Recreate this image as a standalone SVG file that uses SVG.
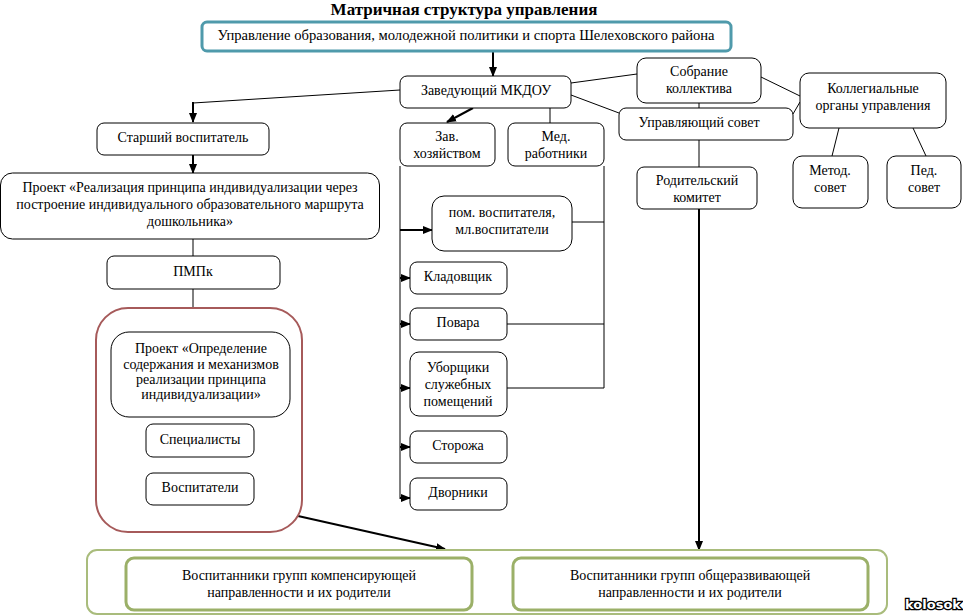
<svg xmlns="http://www.w3.org/2000/svg" width="963" height="616" viewBox="0 0 963 616">
<defs>
<marker id="ah" markerUnits="userSpaceOnUse" markerWidth="10" markerHeight="10" refX="9" refY="5" orient="auto">
<path d="M0,1 L10,5 L0,9 Z" fill="#000"/>
</marker>
<style>
text{font-family:"Liberation Serif","Times New Roman",serif;font-size:14px;fill:#000;text-anchor:middle;dominant-baseline:middle}
.t{font-size:17px;font-weight:bold}
.b{fill:#fff;stroke:#000;stroke-width:1}
.ln{stroke:#000;stroke-width:1;fill:none}
.th{stroke:#000;stroke-width:2;fill:none}
.ar{stroke:#000;stroke-width:2;fill:none;marker-end:url(#ah)}
.g{fill:#fff;stroke:#9bb068;stroke-width:3}
.wm{font-family:"DejaVu Sans",sans-serif;font-size:13px;font-weight:bold;fill:#fff;stroke:#000;stroke-width:2.5;paint-order:stroke}
</style>
</defs>
<rect width="963" height="616" fill="#fff"/>
<text class="t" x="464" y="11">Матричная структура управления</text>

<g id="connectors">
<line class="ar" x1="493" y1="51" x2="493" y2="76"/>
<polyline class="ln" points="400,90 193,103"/>
<line class="ar" x1="193" y1="102" x2="193" y2="122"/>
<line class="ar" x1="193" y1="155" x2="193" y2="173"/>
<line class="ln" x1="193" y1="239" x2="193" y2="256"/>
<line class="ln" x1="193" y1="289" x2="193" y2="308"/>
<line class="ar" x1="298" y1="516" x2="445" y2="549"/>
<line class="ar" x1="473" y1="108" x2="447" y2="122"/>
<line class="ln" x1="550" y1="108" x2="550" y2="123"/>
<line class="ln" x1="571" y1="83" x2="637" y2="74"/>
<line class="ln" x1="571" y1="95" x2="619" y2="113"/>
<line class="ln" x1="761" y1="77" x2="800" y2="96"/>
<line class="ln" x1="793" y1="114" x2="800" y2="102"/>
<line class="ln" x1="699" y1="103" x2="699" y2="108"/>
<line class="ln" x1="699" y1="140" x2="699" y2="167"/>
<line class="ar" x1="699" y1="209" x2="699" y2="550"/>
<line class="ln" x1="839" y1="128" x2="832" y2="156"/>
<line class="ln" x1="913" y1="128" x2="926" y2="156"/>
<line class="ln" x1="400" y1="166" x2="400" y2="499"/>
<line class="ar" x1="400" y1="230" x2="432" y2="230"/>
<line class="ar" x1="400" y1="278" x2="410" y2="278"/>
<line class="ar" x1="400" y1="324" x2="410" y2="324"/>
<line class="ar" x1="400" y1="388" x2="410" y2="388"/>
<line class="ar" x1="400" y1="447" x2="410" y2="447"/>
<line class="ar" x1="400" y1="498" x2="410" y2="498"/>
<line class="ln" x1="604" y1="166" x2="604" y2="388"/>
<line class="ln" x1="572" y1="222" x2="604" y2="222"/>
<line class="ln" x1="507" y1="324" x2="604" y2="324"/>
<line class="ln" x1="507" y1="388" x2="604" y2="388"/>
</g>

<g id="top">
<rect x="202" y="22" width="529" height="29" rx="5" fill="#fff" stroke="#4f9aab" stroke-width="3"/>
<text x="466" y="37" style="font-size:14.6px">Управление образования, молодежной политики и спорта Шелеховского района</text>
</g>
<g id="head">
<rect class="b" x="400" y="76" width="171" height="32" rx="7"/>
<text x="486" y="92">Заведующий МКДОУ</text>
</g>
<g id="senior">
<rect class="b" x="97" y="123" width="172" height="32" rx="7"/>
<text x="183" y="139">Старший воспитатель</text>
</g>
<g id="project1">
<rect class="b" x="0.5" y="173" width="379" height="66" rx="12"/>
<text x="190" y="189">Проект «Реализация принципа индивидуализации через</text>
<text x="190" y="206">построение индивидуального образовательного маршрута</text>
<text x="190" y="223">дошкольника»</text>
</g>
<g id="pmpk">
<rect class="b" x="107" y="256" width="173" height="33" rx="7"/>
<text x="193" y="273">ПМПк</text>
</g>
<g id="team">
<rect x="96" y="308" width="206" height="224" rx="32" fill="#fff" stroke="#a65a5a" stroke-width="2"/>
</g>
<g id="project2">
<rect class="b" x="111" y="332" width="179" height="85" rx="18"/>
<text x="201" y="350">Проект «Определение</text>
<text x="201" y="366">содержания и механизмов</text>
<text x="201" y="381">реализации принципа</text>
<text x="201" y="396">индивидуализации»</text>
</g>
<g id="spec">
<rect class="b" x="146" y="424" width="108" height="33" rx="7"/>
<text x="200" y="441">Специалисты</text>
</g>
<g id="vosp">
<rect class="b" x="146" y="473" width="108" height="32" rx="7"/>
<text x="200" y="489">Воспитатели</text>
</g>
<g id="zavhoz">
<rect class="b" x="400" y="123" width="95" height="43" rx="7"/>
<text x="447" y="138">Зав.</text>
<text x="447" y="155">хозяйством</text>
</g>
<g id="med">
<rect class="b" x="508" y="123" width="96" height="43" rx="7"/>
<text x="556" y="138">Мед.</text>
<text x="556" y="155">работники</text>
</g>
<g id="pom">
<rect class="b" x="432" y="196" width="140" height="55" rx="12"/>
<text x="502" y="214">пом. воспитателя,</text>
<text x="502" y="231">мл.воспитатели</text>
</g>
<g id="klad">
<rect class="b" x="410" y="262" width="97" height="32" rx="7"/>
<text x="458" y="278">Кладовщик</text>
</g>
<g id="povara">
<rect class="b" x="410" y="308" width="97" height="32" rx="7"/>
<text x="458" y="324">Повара</text>
</g>
<g id="uborsh">
<rect class="b" x="410" y="352" width="97" height="64" rx="9"/>
<text x="458" y="369">Уборщики</text>
<text x="458" y="386">служебных</text>
<text x="458" y="403">помещений</text>
</g>
<g id="storozh">
<rect class="b" x="410" y="431" width="97" height="32" rx="7"/>
<text x="458" y="447">Сторожа</text>
</g>
<g id="dvor">
<rect class="b" x="410" y="478" width="97" height="32" rx="7"/>
<text x="458" y="494">Дворники</text>
</g>
<g id="sobranie">
<rect class="b" x="637" y="58" width="124" height="45" rx="9"/>
<text x="699" y="73">Собрание</text>
<text x="699" y="90">коллектива</text>
</g>
<g id="upr">
<rect class="b" x="619" y="108" width="174" height="32" rx="7"/>
<text x="699" y="124">Управляющий совет</text>
</g>
<g id="kolleg">
<rect class="b" x="800" y="73" width="146" height="55" rx="9"/>
<text x="873" y="90">Коллегиальные</text>
<text x="873" y="107">органы управления</text>
</g>
<g id="metod">
<rect class="b" x="793" y="156" width="75" height="52" rx="9"/>
<text x="830" y="172">Метод.</text>
<text x="830" y="189">совет</text>
</g>
<g id="ped">
<rect class="b" x="887" y="156" width="74" height="52" rx="9"/>
<text x="924" y="172">Пед.</text>
<text x="924" y="189">совет</text>
</g>
<g id="roditel">
<rect class="b" x="637" y="167" width="120" height="42" rx="7"/>
<text x="697" y="182">Родительский</text>
<text x="697" y="199">комитет</text>
</g>
<g id="bottom">
<rect x="87" y="550" width="800" height="64" rx="10" fill="#fff" stroke="#a9bc7c" stroke-width="2"/>
</g>
<g id="comp">
<rect class="g" x="126" y="558" width="346" height="52" rx="8"/>
<text x="299" y="577">Воспитанники групп компенсирующей</text>
<text x="299" y="594">направленности и их родители</text>
</g>
<g id="obsh">
<rect class="g" x="513" y="558" width="355" height="52" rx="8"/>
<text x="690" y="577">Воспитанники групп общеразвивающей</text>
<text x="690" y="594">направленности и их родители</text>
</g>
<text class="wm" x="933" y="605">kolosok</text>
</svg>
